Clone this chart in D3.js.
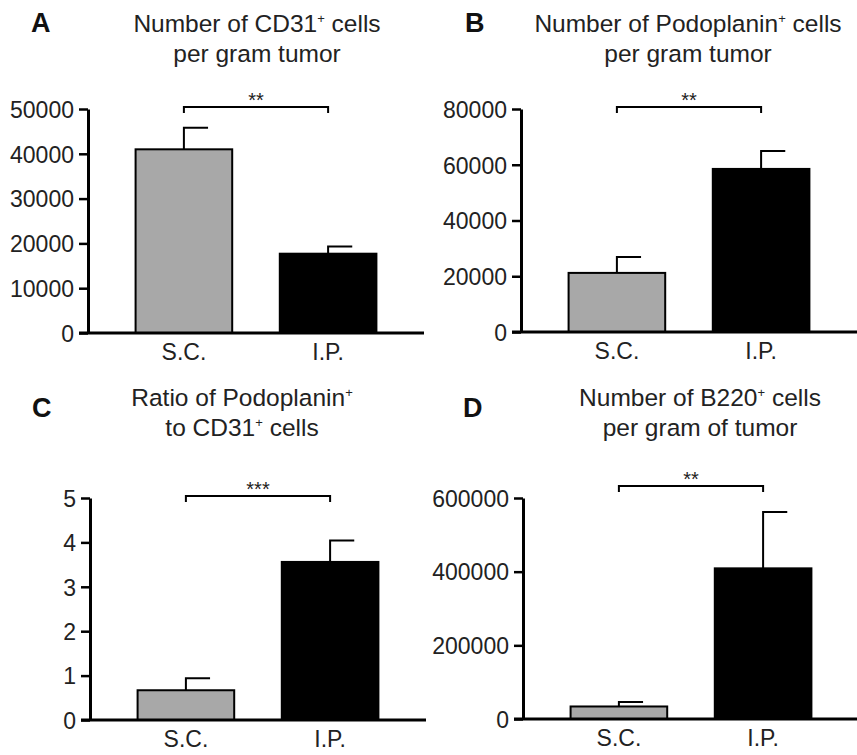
<!DOCTYPE html>
<html>
<head>
<meta charset="utf-8">
<script src="https://cdn.jsdelivr.net/npm/d3@7"></script>
<style>
  body { margin: 0; background: #fff; }
  text { font-family: "Liberation Sans", Arial, sans-serif; fill: #222; }
</style>
</head>
<body>
<div id="chart"></div>
<script>
(function(d3) {
// data
var groups = ["S.C.", "I.P."];
var cd31Mean = [41000, 17700], cd31Sem = [4800, 1600];
var podoMean = [21200, 58500], podoSem = [5700, 6400];
var ratioMean = [0.67, 3.56], ratioSem = [0.27, 0.48];
var b220Mean = [34000, 409000], b220Sem = [12000, 153000];
var cd31Ticks = [0, 10000, 20000, 30000, 40000, 50000];
var podoTicks = [0, 20000, 40000, 60000, 80000];
var ratioTicks = [0, 1, 2, 3, 4, 5];
var b220Ticks = [0, 200000, 400000, 600000];
var letters = ["A", "B", "C", "D"];
var titles = [["Number of CD31⁺ cells", "per gram tumor"],
              ["Number of Podoplanin⁺ cells", "per gram tumor"],
              ["Ratio of Podoplanin⁺", "to CD31⁺ cells"],
              ["Number of B220⁺ cells", "per gram of tumor"]];
var stars = ["**", "**", "***", "**"];

var means = [cd31Mean, podoMean, ratioMean, b220Mean];
var sems = [cd31Sem, podoSem, ratioSem, b220Sem];
var ticks = [cd31Ticks, podoTicks, ratioTicks, b220Ticks];
var colors = ["#a8a8a8", "#000"];

// panel placement (axis origin, plot top/bottom, title etc.)
var layout = [
  {x: 88,  top: 109, bottom: 333, titleX: 257, titleY: 32,  letterX: 31,  letterY: 32,  bracketGap: 2},
  {x: 521, top: 109, bottom: 332, titleX: 688, titleY: 32,  letterX: 465, letterY: 32,  bracketGap: 2},
  {x: 90,  top: 498, bottom: 720, titleX: 242, titleY: 406, letterX: 32,  letterY: 417, bracketGap: 2},
  {x: 523, top: 498, bottom: 719, titleX: 700, titleY: 406, letterX: 463, letterY: 417, bracketGap: 12}
];
var plotWidth = 336;

var svg = d3.select("#chart").append("svg")
    .attr("width", 857)
    .attr("height", 755);

function addTitleLine(sel, str) {
  var parts = str.split("⁺");
  parts.forEach(function(p, i) {
    if (i > 0) {
      sel.append("tspan").attr("font-size", "13px").attr("dy", -9).text("+");
      sel.append("tspan").attr("dy", 9).text(p);
    } else {
      sel.append("tspan").text(p);
    }
  });
}

layout.forEach(function(L, k) {
  var g = svg.append("g").attr("transform", "translate(" + L.x + ",0)");
  var data = groups.map(function(name, i) {
    return {name: name, mean: means[k][i], sem: sems[k][i], fill: colors[i]};
  });

  var y = d3.scaleLinear()
      .domain([0, d3.max(ticks[k])])
      .range([L.bottom, L.top]);
  var x = d3.scaleBand()
      .domain(groups)
      .range([0, plotWidth])
      .paddingInner(0.33)
      .paddingOuter(0.33);

  // bars
  g.selectAll(".bar")
      .data(data)
      .enter().append("rect")
      .attr("class", "bar")
      .attr("x", function(d) { return x(d.name); })
      .attr("width", x.bandwidth())
      .attr("y", function(d) { return y(d.mean); })
      .attr("height", function(d) { return y(0) - y(d.mean); })
      .style("fill", function(d) { return d.fill; })
      .style("stroke", "#000")
      .style("stroke-width", 2);

  // error bars (upper only, cap to the right)
  g.selectAll(".err")
      .data(data)
      .enter().append("path")
      .attr("class", "err")
      .attr("d", function(d) {
        var cx = x(d.name) + x.bandwidth() / 2;
        return "M" + cx + "," + y(d.mean) + "V" + y(d.mean + d.sem) + "H" + (cx + x.bandwidth() / 4);
      })
      .style("fill", "none")
      .style("stroke", "#000")
      .style("stroke-width", 2);

  // y axis
  var ya = g.append("g")
      .call(d3.axisLeft(y).tickValues(ticks[k]).tickSize(9).tickSizeOuter(0).tickPadding(5).tickFormat(d3.format("d")));
  ya.select(".domain").style("stroke-width", 3);
  ya.selectAll(".tick line").style("stroke-width", 2.5);
  ya.selectAll(".tick text").attr("font-size", "23px").attr("dy", "0.36em")
      .style("font-family", "'Liberation Sans', Arial, sans-serif").style("fill", "#222");

  // x axis
  var xa = g.append("g")
      .attr("transform", "translate(0," + y(0) + ")")
      .call(d3.axisBottom(x).tickSize(0).tickPadding(11));
  xa.select(".domain").attr("d", "M-9,0H" + plotWidth).style("stroke-width", 3);
  xa.selectAll(".tick text").attr("font-size", "23px")
      .style("font-family", "'Liberation Sans', Arial, sans-serif").style("fill", "#222");

  // significance bracket
  var x1 = x(groups[0]) + x.bandwidth() / 2, x2 = x(groups[1]) + x.bandwidth() / 2;
  var by = L.top - L.bracketGap;
  g.append("path")
      .attr("d", "M" + x1 + "," + (by + 6) + "V" + by + "H" + x2 + "V" + (by + 6))
      .style("fill", "none")
      .style("stroke", "#000")
      .style("stroke-width", 2);
  g.append("text")
      .attr("x", (x1 + x2) / 2)
      .attr("y", by)
      .attr("text-anchor", "middle")
      .attr("font-size", "20px")
      .text(stars[k]);

  // title
  titles[k].forEach(function(line, j) {
    var t = svg.append("text")
        .attr("x", L.titleX)
        .attr("y", L.titleY + j * 30)
        .attr("text-anchor", "middle")
        .attr("font-size", "24.5px");
    addTitleLine(t, line);
  });

  svg.append("text")
      .attr("x", L.letterX)
      .attr("y", L.letterY)
      .attr("font-size", "27px")
      .attr("font-weight", "bold")
      .style("fill", "#111")
      .text(letters[k]);
});

})(window.d3);
</script>
</body>
</html>
